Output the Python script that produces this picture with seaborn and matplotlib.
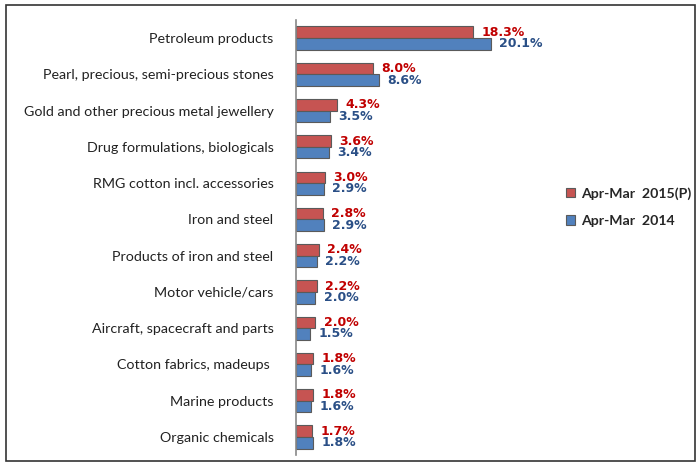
import matplotlib
matplotlib.use("Agg")
import matplotlib.pyplot as plt
import seaborn as sns
import numpy as np
import pandas as pd
from matplotlib.patches import Rectangle

categories = [
    "Petroleum products",
    "Pearl, precious, semi-precious stones",
    "Gold and other precious metal jewellery",
    "Drug formulations, biologicals",
    "RMG cotton incl. accessories",
    "Iron and steel",
    "Products of iron and steel",
    "Motor vehicle/cars",
    "Aircraft, spacecraft and parts",
    "Cotton fabrics, madeups ",
    "Marine products",
    "Organic chemicals",
]
share_2015 = [18.3, 8.0, 4.3, 3.6, 3.0, 2.8, 2.4, 2.2, 2.0, 1.8, 1.8, 1.7]
share_2014 = [20.1, 8.6, 3.5, 3.4, 2.9, 2.9, 2.2, 2.0, 1.5, 1.6, 1.6, 1.8]
series = ["Apr-Mar  2015(P)", "Apr-Mar  2014"]

df = pd.DataFrame({
    "item": categories * 2,
    "share": share_2015 + share_2014,
    "period": [series[0]] * len(categories) + [series[1]] * len(categories),
})

sns.set_style("white")
plt.rcParams["font.family"] = ["Lato", "DejaVu Sans"]

red = "#d9413f"
blue = "#3f7fcf"
red_txt = "#c00000"
blue_txt = "#2a4f86"

fig = plt.figure(figsize=(6.96, 4.63), dpi=100)
fig.patches.append(Rectangle((0.008, 0.004), 0.99, 0.985, transform=fig.transFigure,
                             fill=False, edgecolor="#333333", linewidth=1.2))
ax = fig.add_axes([0.425, 0.017, 0.362, 0.94])

sns.barplot(data=df, y="item", x="share", hue="period", hue_order=series,
            palette=[red, blue], orient="h", width=0.64, ax=ax,
            edgecolor="#5a5a5a", linewidth=0.8, legend=True)

for cont, col in zip(ax.containers, [red_txt, blue_txt]):
    ax.bar_label(cont, labels=[f"{v:.1f}%" for v in cont.datavalues],
                 padding=6, color=col, fontsize=9, fontweight="bold",
                 family="DejaVu Sans")

ax.set_xlim(0, 26)
ax.set_ylim(11.5, -0.5)
ax.set_xlabel("")
ax.set_ylabel("")
ax.set_xticks([])
ax.tick_params(axis="y", which="major", length=0, pad=16, labelsize=10.3, labelcolor="#222222")
ax.set_yticks(np.arange(-0.5, 12, 1), minor=True)
ax.tick_params(axis="y", which="minor", length=5, color="#888888", width=1.2)
for s in ["top", "right", "bottom"]:
    ax.spines[s].set_visible(False)
ax.spines["left"].set_color("#888888")
ax.spines["left"].set_linewidth(1.2)

handles, labels = ax.get_legend_handles_labels()
ax.legend(handles, labels, loc="center left", bbox_to_anchor=(1.02, 0.57),
          frameon=False, handlelength=0.7, handleheight=0.7, handletextpad=0.4,
          labelspacing=1.1, prop={"weight": "bold", "size": 10.2})

fig.savefig("out.png", dpi=100)
